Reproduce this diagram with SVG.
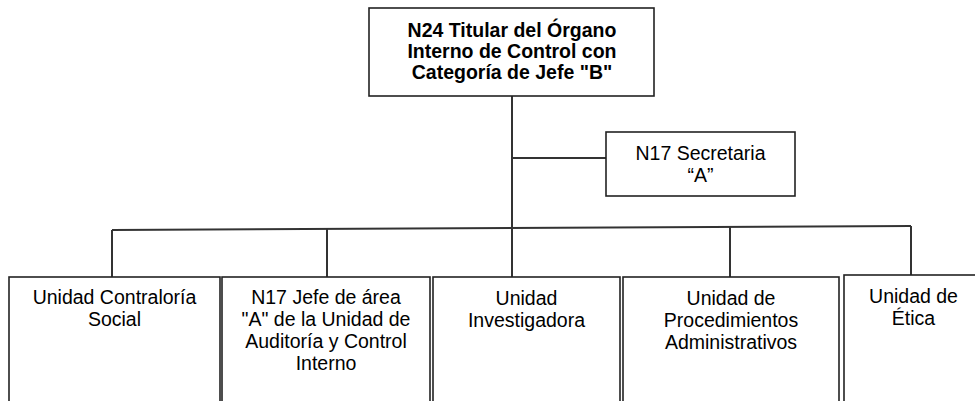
<svg xmlns="http://www.w3.org/2000/svg" width="975" height="401" viewBox="0 0 975 401">
<style>
.box{fill:#fff;stroke:#222;stroke-width:1.6}
.ln{stroke:#333;stroke-width:2;fill:none}
text{font-family:"Liberation Sans",Arial,sans-serif;font-size:19.5px;fill:#000;text-anchor:middle}
.b{font-weight:bold}
</style>
<rect width="975" height="401" fill="#fff"/>
<g id="connectors">
<line class="ln" x1="512" y1="96" x2="512" y2="277"/>
<line class="ln" x1="512" y1="158" x2="606" y2="158"/>
<line class="ln" x1="112" y1="230" x2="911" y2="226"/>
<line class="ln" x1="112" y1="230" x2="112" y2="277"/>
<line class="ln" x1="327" y1="229" x2="327" y2="277"/>
<line class="ln" x1="730" y1="227" x2="730" y2="277"/>
<line class="ln" x1="911" y1="226" x2="911" y2="275"/>
</g>
<g id="titular">
<rect class="box" x="369" y="8" width="285" height="88"/>
<text class="b" x="512" y="37">N24 Titular del Órgano</text>
<text class="b" x="512" y="58">Interno de Control con</text>
<text class="b" x="512" y="79">Categoría de Jefe "B"</text>
</g>
<g id="secretaria">
<rect class="box" x="606" y="132" width="189" height="64"/>
<text x="700.5" y="160">N17 Secretaria</text>
<text x="700.5" y="182">“A”</text>
</g>
<g id="contraloria">
<rect class="box" x="9" y="277" width="211" height="140"/>
<text x="114.5" y="304">Unidad Contraloría</text>
<text x="114.5" y="326">Social</text>
</g>
<g id="auditoria">
<rect class="box" x="222" y="277" width="208" height="140"/>
<text x="326" y="304">N17 Jefe de área</text>
<text x="326" y="326">"A" de la Unidad de</text>
<text x="326" y="348">Auditoría y Control</text>
<text x="326" y="370">Interno</text>
</g>
<g id="investigadora">
<rect class="box" x="433" y="277" width="187" height="140"/>
<text x="526.5" y="305">Unidad</text>
<text x="526.5" y="327">Investigadora</text>
</g>
<g id="procedimientos">
<rect class="box" x="623" y="277" width="216" height="140"/>
<text x="731" y="305">Unidad de</text>
<text x="731" y="327">Procedimientos</text>
<text x="731" y="349">Administrativos</text>
</g>
<g id="etica">
<rect class="box" x="844" y="275" width="139" height="142"/>
<text x="913.5" y="303">Unidad de</text>
<text x="913.5" y="325">Ética</text>
</g>
</svg>
